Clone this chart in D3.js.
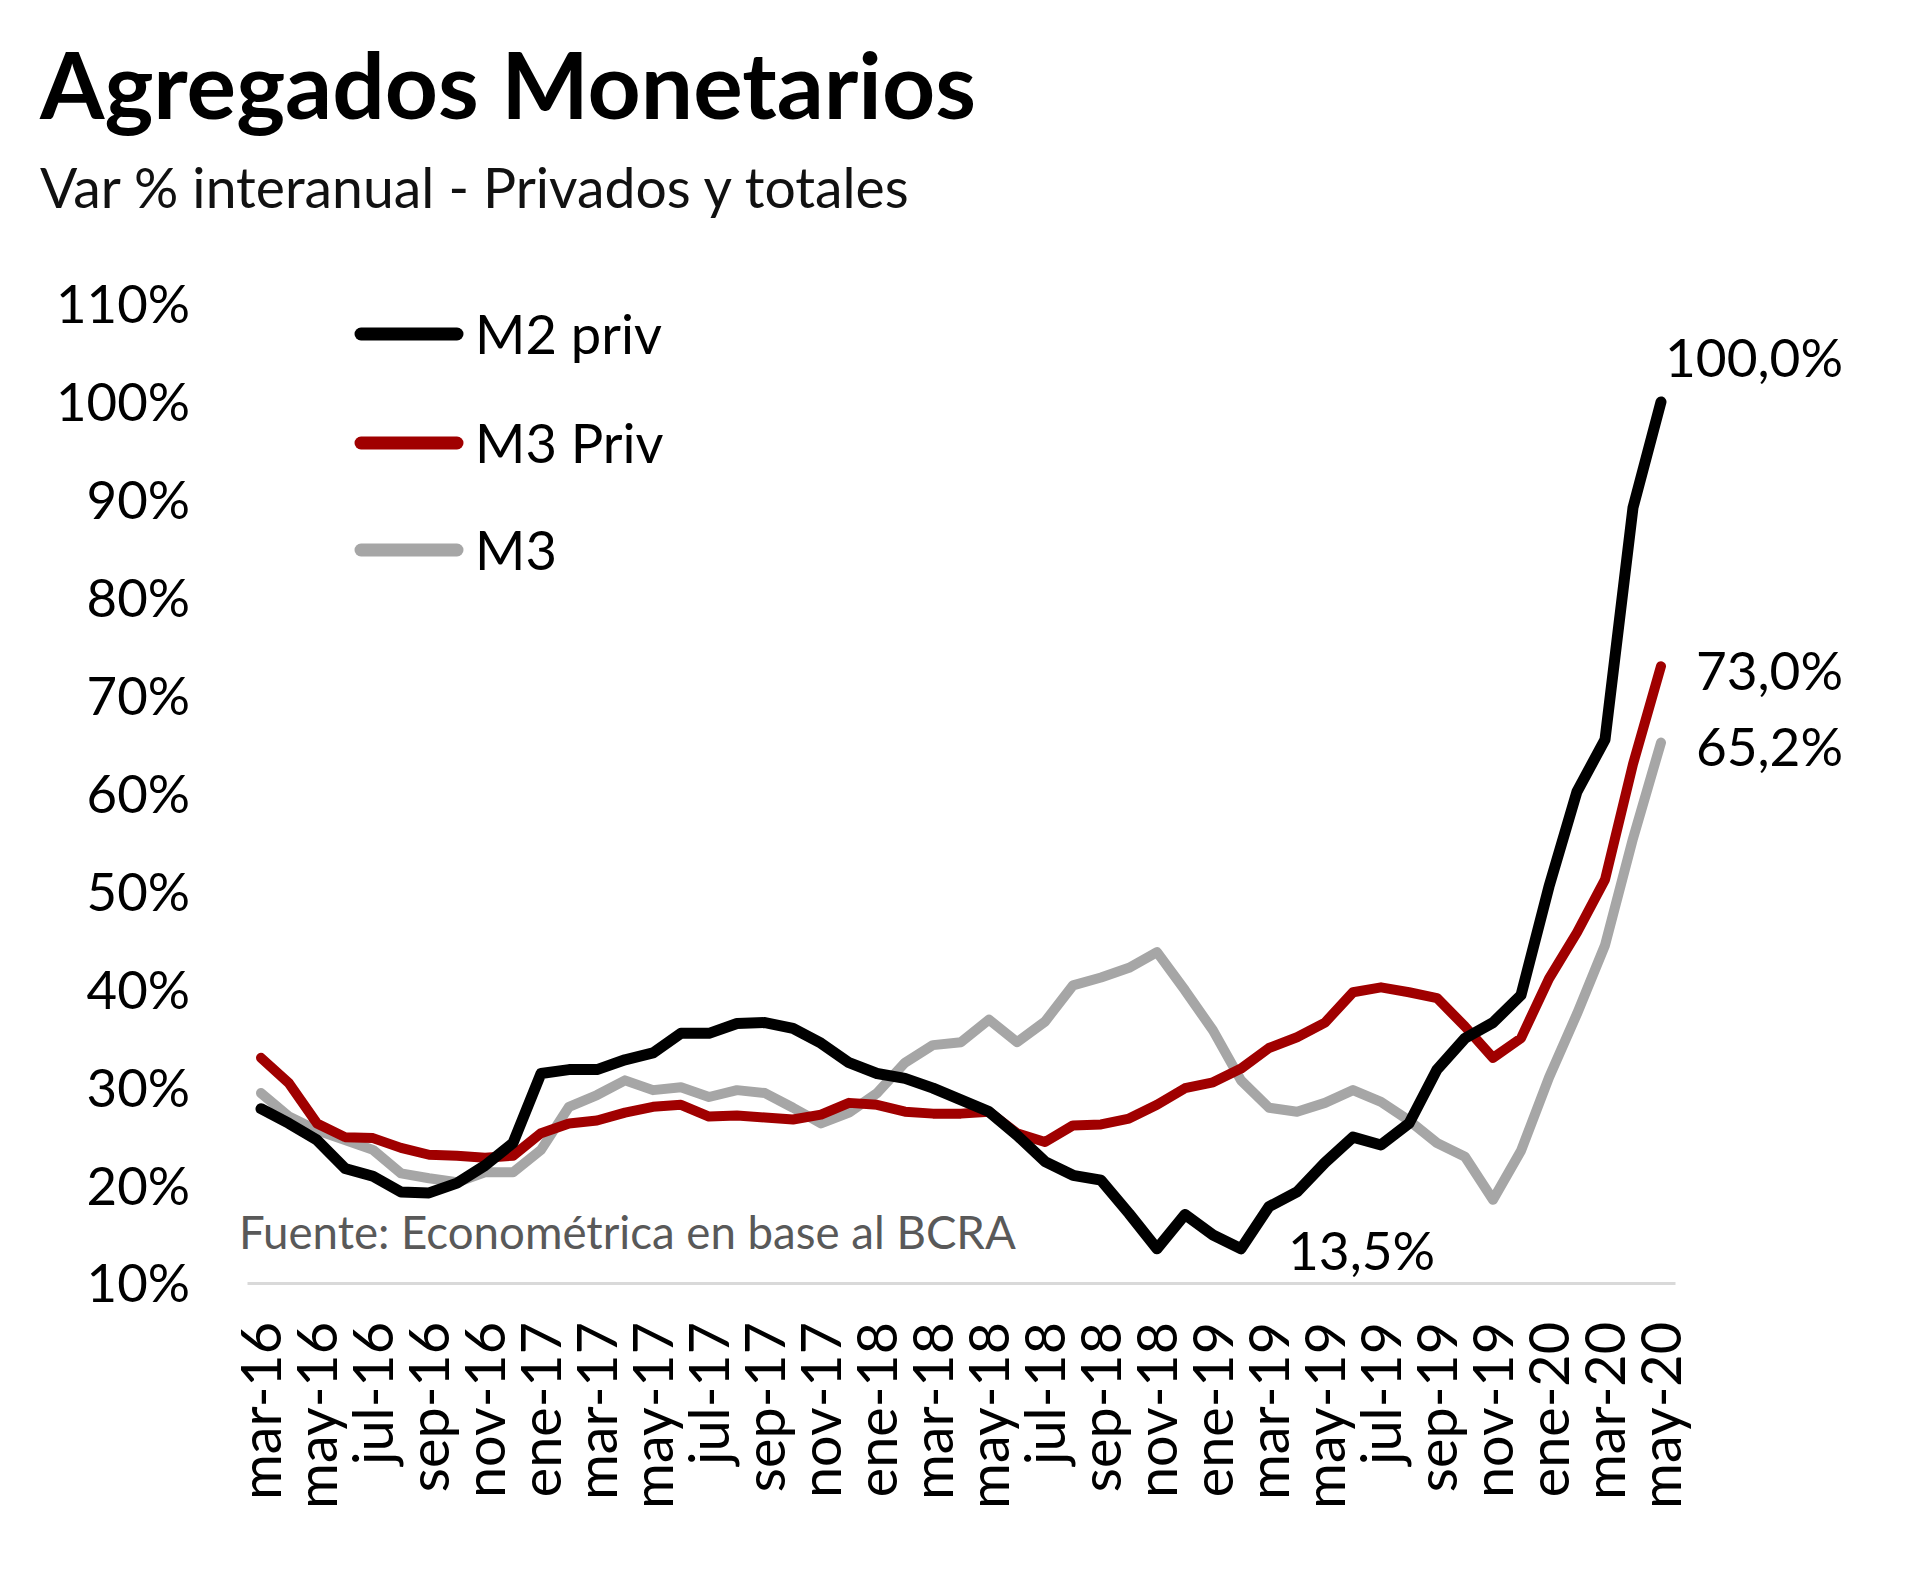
<!DOCTYPE html>
<html>
<head>
<meta charset="utf-8">
<script src="https://cdn.jsdelivr.net/npm/d3@7"></script>
<style>
  html, body { margin: 0; padding: 0; background: #fff; }
  svg { display: block; }
  text { font-family: Lato, "Open Sans", sans-serif; }
</style>
</head>
<body>
<svg id="chart" width="1920" height="1571"></svg>
<script>
// ---------------- DATA ----------------
const months = [
  "mar-16","abr-16","may-16","jun-16","jul-16","ago-16","sep-16","oct-16","nov-16","dic-16",
  "ene-17","feb-17","mar-17","abr-17","may-17","jun-17","jul-17","ago-17","sep-17","oct-17","nov-17","dic-17",
  "ene-18","feb-18","mar-18","abr-18","may-18","jun-18","jul-18","ago-18","sep-18","oct-18","nov-18","dic-18",
  "ene-19","feb-19","mar-19","abr-19","may-19","jun-19","jul-19","ago-19","sep-19","oct-19","nov-19","dic-19",
  "ene-20","feb-20","mar-20","abr-20","may-20"
];
const xTickLabels = months.filter((m, i) => i % 2 === 0);
const yTickValues = [10, 20, 30, 40, 50, 60, 70, 80, 90, 100, 110];

const m2Priv = [
  27.8, 26.3, 24.6, 21.7, 20.9, 19.3, 19.2, 20.2, 22.0, 24.3,
  31.4, 31.8, 31.8, 32.8, 33.5, 35.5, 35.5, 36.5, 36.6, 36.0, 34.5, 32.5,
  31.4, 30.9, 29.9, 28.7, 27.5, 25.1, 22.4, 21.0, 20.5, 17.1, 13.5, 17.0,
  14.9, 13.5, 17.8, 19.3, 22.3, 24.9, 24.1, 26.3, 31.8, 35.0, 36.6, 39.4,
  50.5, 60.2, 65.5, 89.2, 100.0
];
const m3Priv = [
  33.0, 30.4, 26.3, 24.9, 24.8, 23.8, 23.1, 23.0, 22.8, 23.0,
  25.3, 26.3, 26.6, 27.4, 28.0, 28.2, 27.0, 27.1, 26.9, 26.7, 27.2, 28.4,
  28.2, 27.5, 27.3, 27.3, 27.5, 25.3, 24.4, 26.1, 26.2, 26.8, 28.2, 29.9,
  30.5, 31.9, 34.0, 35.1, 36.6, 39.7, 40.2, 39.7, 39.1, 36.2, 33.0, 35.0,
  41.1, 45.8, 51.2, 63.0, 73.0
];
const m3 = [
  29.4, 27.0, 25.6, 24.6, 23.6, 21.2, 20.7, 20.3, 21.3, 21.3,
  23.6, 28.0, 29.2, 30.7, 29.7, 30.0, 29.0, 29.7, 29.4, 27.9, 26.3, 27.4,
  29.4, 32.5, 34.3, 34.6, 36.9, 34.6, 36.7, 40.4, 41.2, 42.2, 43.8, 39.9,
  35.8, 30.7, 27.9, 27.5, 28.4, 29.7, 28.5, 26.6, 24.3, 22.9, 18.5, 23.5,
  31.0, 37.5, 44.5, 55.4, 65.2
];

const seriesNames = ["M2 priv", "M3 Priv", "M3"];
const seriesColors = ["#000000", "#a00000", "#a6a6a6"];
const seriesValues = [m2Priv, m3Priv, m3];

const annotations = [
  { text: "100,0%", series: 0, index: 50 },
  { text: "73,0%",  series: 1, index: 50 },
  { text: "65,2%",  series: 2, index: 50 },
  { text: "13,5%",  series: 0, index: 35 }
];

const titleText = "Agregados Monetarios";
const subtitleText = "Var % interanual - Privados y totales";
const sourceText = "Fuente: Econométrica en base al BCRA";

// ---------------- LAYOUT ----------------
const svg = d3.select("#chart");
svg.append("rect").attr("width", 1920).attr("height", 1571).attr("fill", "#fff");

function fitWidth(sel, target) {
  const fs = parseFloat(sel.attr("font-size"));
  const w = sel.node().getComputedTextLength();
  const nfs = fs * target / w;
  sel.attr("font-size", nfs);
  return nfs;
}

const x = d3.scaleBand().domain(months).range([247, 1675]).padding(0);
const xc = d => x(d) + x.bandwidth() / 2;
const y = d3.scaleLinear().domain([10, 110]).range([1283, 304]);

// Title & subtitle
const title = svg.append("text").attr("x", 40).attr("y", 119)
  .attr("font-size", 90).attr("font-weight", 700).attr("fill", "#000")
  .text(titleText);
fitWidth(title, 936);

const sub = svg.append("text").attr("x", 40).attr("y", 208)
  .attr("font-size", 50).attr("fill", "#111")
  .text(subtitleText);
fitWidth(sub, 869);

// Y axis (labels only)
const yAxis = svg.append("g").attr("transform", "translate(190,0)")
  .call(d3.axisLeft(y).tickValues(yTickValues).tickFormat(d => d + "%").tickSize(0).tickPadding(0));
yAxis.select(".domain").remove();
yAxis.selectAll("text").attr("font-family", "Lato, sans-serif").attr("fill", "#000")
  .attr("font-size", 50).attr("dy", "0.36em");
{
  const t = yAxis.selectAll("text").filter(d => d === 110);
  const fs = fitWidth(t, 134);
  yAxis.selectAll("text").attr("font-size", fs);
}

// X axis
const xAxis = svg.append("g").attr("transform", "translate(0,1283)")
  .call(d3.axisBottom(x).tickValues(xTickLabels).tickSize(0).tickSizeOuter(0).tickPadding(0));
xAxis.select(".domain").attr("stroke", "#d9d9d9").attr("stroke-width", 3);
xAxis.selectAll("text")
  .attr("font-family", "Lato, sans-serif").attr("fill", "#000")
  .attr("font-size", 40)
  .attr("transform", "rotate(-90)")
  .attr("text-anchor", "end")
  .attr("x", -39).attr("y", 0).attr("dy", "0.36em");
{
  const t = xAxis.selectAll("text").filter(d => d === "mar-16");
  const fs = fitWidth(t, 178);
  xAxis.selectAll("text").attr("font-size", fs);
}

// Source text
const src = svg.append("text").attr("x", 239).attr("y", 1233).attr("dy", "0.36em")
  .attr("font-size", 40).attr("fill", "#595959").text(sourceText);
fitWidth(src, 777);

// Lines
const line = d3.line().x((d, i) => xc(months[i])).y(d => y(d)).curve(d3.curveLinear);
const widths = [11, 10, 10];
[2, 1, 0].forEach(s => {
  svg.append("path").datum(seriesValues[s])
    .attr("d", line)
    .attr("fill", "none")
    .attr("stroke", seriesColors[s])
    .attr("stroke-width", widths[s])
    .attr("stroke-linejoin", "round")
    .attr("stroke-linecap", "round");
});

// Legend
const legendY = [334, 443, 550];
const legend = svg.append("g");
seriesNames.forEach((name, s) => {
  legend.append("line").attr("x1", 361).attr("x2", 457)
    .attr("y1", legendY[s]).attr("y2", legendY[s])
    .attr("stroke", seriesColors[s]).attr("stroke-width", 13).attr("stroke-linecap", "round");
  legend.append("text").attr("class", "leg").attr("x", 475).attr("y", legendY[s]).attr("dy", "0.36em")
    .attr("font-size", 50).attr("fill", "#000").text(name);
});
{
  const t = legend.selectAll("text.leg").filter((d, i) => i === 0);
  const fs = fitWidth(t, 187);
  legend.selectAll("text.leg").attr("font-size", fs);
}

// Annotations
const annG = svg.append("g");
const annOffsets = [
  { dx: 182, dy: -44, anchor: "end" },
  { dx: 182, dy: 5, anchor: "end" },
  { dx: 182, dy: 4, anchor: "end" },
  { dx: 47, dy: 2, anchor: "start" }
];
annotations.forEach((a, k) => {
  const v = seriesValues[a.series][a.index];
  annG.append("text")
    .attr("x", xc(months[a.index]) + annOffsets[k].dx)
    .attr("y", y(v) + annOffsets[k].dy)
    .attr("dy", "0.36em")
    .attr("text-anchor", annOffsets[k].anchor)
    .attr("font-size", 50).attr("fill", "#000")
    .text(a.text);
});
{
  const t = annG.selectAll("text").filter((d, i) => i === 0);
  const fs = fitWidth(t, 178);
  annG.selectAll("text").attr("font-size", fs);
}
</script>
</body>
</html>
